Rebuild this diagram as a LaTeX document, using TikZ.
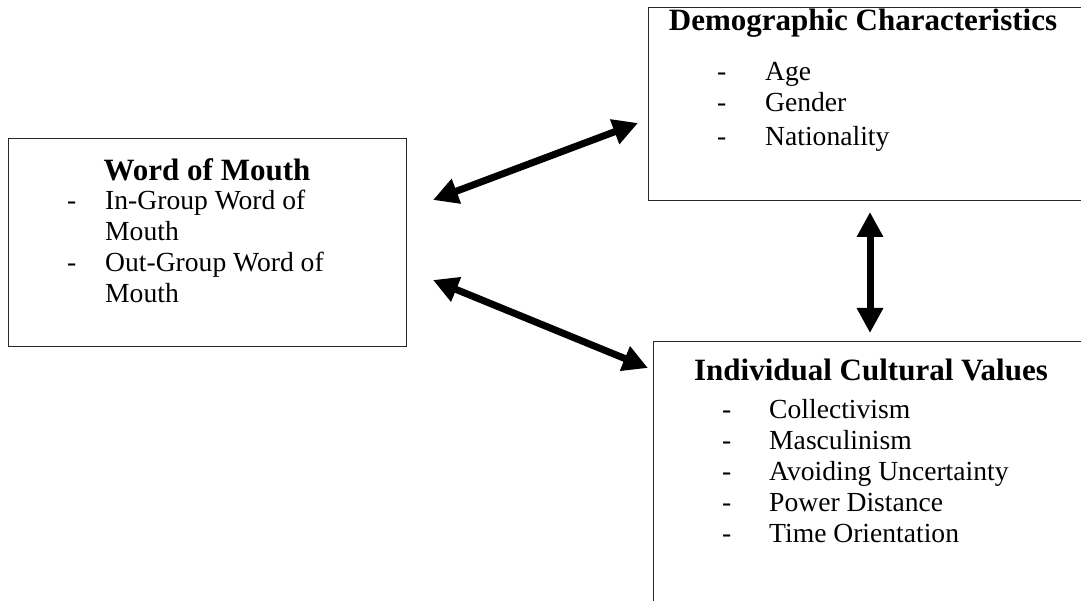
\documentclass[tikz,border=0pt]{standalone}
\usepackage{fontspec}
\setmainfont{Liberation Serif}
\usetikzlibrary{arrows.meta}

\tikzset{
    box/.style={draw=black!85, line width=1.3pt, anchor=north west, inner sep=0pt},
    heading/.style={font=\fontsize{31}{31}\selectfont\bfseries, anchor=base, inner sep=0pt},
    item/.style={font=\fontsize{27.6}{27.6}\selectfont, anchor=base west, inner sep=0pt},
    link/.style={line width=7pt, {Triangle[length=25pt,width=25pt]}-{Triangle[length=25pt,width=25pt]}},
}

\begin{document}
\begin{tikzpicture}[x=1pt, y=-1pt]
    \useasboundingbox (0,0) rectangle (1081,601);
    \clip (0,0) rectangle (1081,601);

    % boxes
    \node[box, minimum width=398pt, minimum height=208pt] (wom) at (8,138) {};
    \node[box, minimum width=450pt, minimum height=193pt] (demo) at (648,7) {};
    \node[box, minimum width=450pt, minimum height=300pt] (icv) at (653,341) {};

    % word of mouth
    \node[heading] (wom-title) at (207,181) {Word of Mouth};
    \node[item] (wom-d1) at (67,210) {-};
    \node[item] (wom-d2) at (67,272) {-};
    \foreach \txt/\y in {In-Group Word of/210, Mouth/241, Out-Group Word of/272, Mouth/303}
        \node[item] (wom-\y) at (105,\y) {\txt};

    % demographic characteristics
    \node[heading] (demo-title) at (863,31) {Demographic Characteristics};
    \foreach \txt/\y in {Age/81, Gender/112, Nationality/146} {
        \node[item] (demo-d\y) at (717,\y) {-};
        \node[item] (demo-\y) at (765,\y) {\txt};
    }

    % individual cultural values
    \node[heading] (icv-title) at (871,381) {Individual Cultural Values};
    \foreach \txt/\y in {Collectivism/418, Masculinism/449, Avoiding Uncertainty/480, Power Distance/511, Time Orientation/542} {
        \node[item] (icv-d\y) at (722,\y) {-};
        \node[item] (icv-\y) at (769,\y) {\txt};
    }

    % links
    \coordinate (w1) at (433,200);
    \coordinate (d1) at (638,123);
    \coordinate (w2) at (433,280);
    \coordinate (i2) at (648,368);
    \coordinate (d3) at (870,212);
    \coordinate (i3) at (870,333);
    \draw[link] (w1) -- (d1);
    \draw[link] (w2) -- (i2);
    \draw[link] (d3) -- (i3);
\end{tikzpicture}
\end{document}
